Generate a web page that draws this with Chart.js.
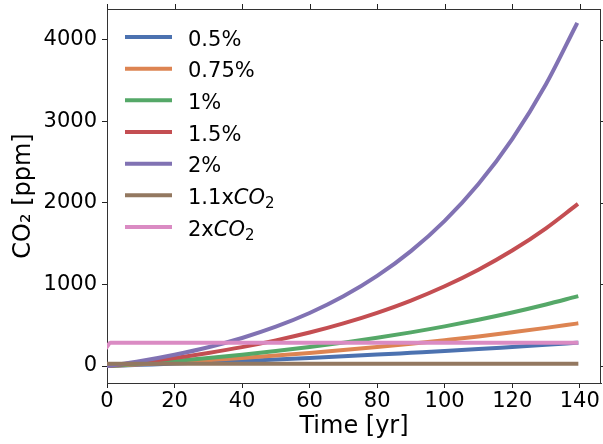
<!DOCTYPE html>
<html>
<head>
<meta charset="utf-8">
<script src="https://cdn.jsdelivr.net/npm/chart.js@4.4.1/dist/chart.umd.min.js"></script>
<style>
  html, body { margin: 0; padding: 0; background: #fff; }
</style>
</head>
<body>
<canvas id="myChart1" width="603" height="444"></canvas>
<script>
//------------------ データ ------------------//
// 時間軸 (yr)
const YEARS = [0, 10, 20, 30, 40, 50, 60, 70, 80, 90, 100, 110, 120, 130, 139]
// 年率増加シナリオ (ppm)
const RATE_05  = [0, 15, 30, 46, 63, 81, 99, 119, 140, 162, 184, 208, 234, 260, 285]
const RATE_075 = [0, 22, 46, 72, 99, 129, 161, 196, 233, 273, 317, 363, 414, 468, 520]
const RATE_1   = [0, 30, 63, 99, 139, 184, 233, 287, 347, 413, 486, 567, 656, 754, 851]
const RATE_15  = [0, 46, 99, 161, 232, 315, 411, 523, 653, 803, 978, 1181, 1416, 1689, 1973]
const RATE_2   = [0, 62, 139, 231, 344, 482, 650, 855, 1105, 1409, 1780, 2232, 2783, 3455, 4185]
// 一定シナリオ
const CONST_YEARS = [0, 1, 139]
const CO2_X11 = [28, 28, 28]
const CO2_X2  = [235, 285, 285]
// 目盛り
const X_TICKS = [0, 20, 40, 60, 80, 100, 120, 140]
const Y_TICKS = [0, 1000, 2000, 3000, 4000]
// 凡例ラベル
const LABELS = ['0.5%', '0.75%', '1%', '1.5%', '2%', '1.1xCO₂', '2xCO₂']
const COLORS = ['#4C72B0', '#DD8452', '#55A868', '#C44E52', '#8172B3', '#937860', '#DA8BC3']
//-------------------------------------------//

const FONT = 'DejaVu Sans'
const TICK_FONT = { family: FONT, size: 21 }

function toPoints(xs, ys){
    return xs.map((x, i) => ({ x: x, y: ys[i] }))
}

const seriesList = [
    [YEARS, RATE_05], [YEARS, RATE_075], [YEARS, RATE_1], [YEARS, RATE_15], [YEARS, RATE_2],
    [CONST_YEARS, CO2_X11], [CONST_YEARS, CO2_X2]
]
const datasets = seriesList.map((s, i) => ({
    label: LABELS[i],
    data: toPoints(s[0], s[1]),
    borderColor: COLORS[i],
    backgroundColor: COLORS[i],
    order: LABELS.length - 1 - i     // 後のものを上に描く
}))

/*--------------------------------------------------------------------
上と右の枠線と目盛り
--------------------------------------------------------------------*/
const framePlugin = {
    id: 'frame',
    afterDraw(chart){
        const ctx = chart.ctx
        const a = chart.chartArea
        const xs = chart.scales.x, ys = chart.scales.y
        ctx.save()
        ctx.strokeStyle = '#333'
        ctx.lineWidth = 1
        ctx.beginPath()
        ctx.moveTo(a.left, Math.round(a.top) + 0.5)
        ctx.lineTo(a.right, Math.round(a.top) + 0.5)
        ctx.moveTo(Math.round(a.right) - 0.5, a.top)
        ctx.lineTo(Math.round(a.right) - 0.5, a.bottom)
        ctx.stroke()
        ctx.strokeStyle = '#222'
        ctx.beginPath()
        X_TICKS.forEach(v => {
            const px = Math.round(xs.getPixelForValue(v)) + 0.5
            ctx.moveTo(px, a.top); ctx.lineTo(px, a.top - 5)
        })
        Y_TICKS.forEach(v => {
            const py = Math.round(ys.getPixelForValue(v)) + 0.5
            ctx.moveTo(a.right, py); ctx.lineTo(a.right + 5, py)
        })
        ctx.stroke()
        ctx.restore()
    }
}

/*--------------------------------------------------------------------
凡例 (CO2 は斜体 + 下付き)
--------------------------------------------------------------------*/
function drawLabel(ctx, text, x, y){
    ctx.fillStyle = '#000'
    ctx.textBaseline = 'alphabetic'
    ctx.textAlign = 'left'
    if (text.endsWith('CO₂')){
        const pre = text.slice(0, -3)
        ctx.font = '21px ' + FONT
        ctx.fillText(pre, x, y)
        x += ctx.measureText(pre).width
        ctx.font = 'oblique 21px ' + FONT
        ctx.fillText('CO', x, y)
        x += ctx.measureText('CO').width
        ctx.font = '15px ' + FONT
        ctx.fillText('2', x, y + 4)
    }
    else{
        ctx.font = '21px ' + FONT
        ctx.fillText(text, x, y)
    }
}

const legendPlugin = {
    id: 'myLegend',
    afterDraw(chart){
        const ctx = chart.ctx
        ctx.save()
        for (let i = 0; i < LABELS.length; i++){
            const y = 37 + i * 31.67
            ctx.strokeStyle = COLORS[i]
            ctx.lineWidth = 4
            ctx.lineCap = 'square'
            ctx.beginPath()
            ctx.moveTo(127, y)
            ctx.lineTo(170, y)
            ctx.stroke()
            drawLabel(ctx, LABELS[i], 188, y + 8.5)
        }
        ctx.restore()
    }
}

const ctx = document.getElementById('myChart1')
window.myChart = new Chart(ctx, {
    type: 'line',
    data: { datasets: datasets },
    options: {
        responsive: false,
        animation: false,
        devicePixelRatio: 1,
        layout: { padding: { top: 9, right: 2, left: 0, bottom: 0 } },
        plugins: { legend: { display: false }, tooltip: { enabled: false } },
        elements: {
            point: { radius: 0 },
            line: { borderWidth: 4, borderCapStyle: 'square', cubicInterpolationMode: 'monotone' }
        },
        scales: {
            x: {
                type: 'linear', min: 0, max: 146.3,
                afterBuildTicks: s => { s.ticks = X_TICKS.map(v => ({ value: v })) },
                afterFit: s => { s.height = 61; s.paddingLeft = 0; s.paddingRight = 0 },
                ticks: { font: TICK_FONT, color: '#000', padding: 1, maxRotation: 0, autoSkip: false, callback: v => String(v) },
                grid: { display: true, drawOnChartArea: false, tickLength: 5, color: '#222' },
                border: { display: true, color: '#333', width: 1 },
                title: { display: true, text: 'Time [yr]', color: '#000', font: { family: FONT, size: 24 }, padding: { top: 0, bottom: 3 } }
            },
            y: {
                type: 'linear', min: -208, max: 4378,
                afterBuildTicks: s => { s.ticks = Y_TICKS.map(v => ({ value: v })) },
                afterFit: s => { s.width = 107; s.paddingTop = 0; s.paddingBottom = 0 },
                ticks: { font: TICK_FONT, color: '#000', padding: 5, autoSkip: false, callback: v => String(v) },
                grid: { display: true, drawOnChartArea: false, tickLength: 5, color: '#222' },
                border: { display: true, color: '#333', width: 1 },
                title: { display: true, text: 'CO₂ [ppm]', color: '#000', font: { family: FONT, size: 24 }, padding: { top: 9, bottom: 0 } }
            }
        }
    },
    plugins: [framePlugin, legendPlugin]
})
</script>
</body>
</html>
